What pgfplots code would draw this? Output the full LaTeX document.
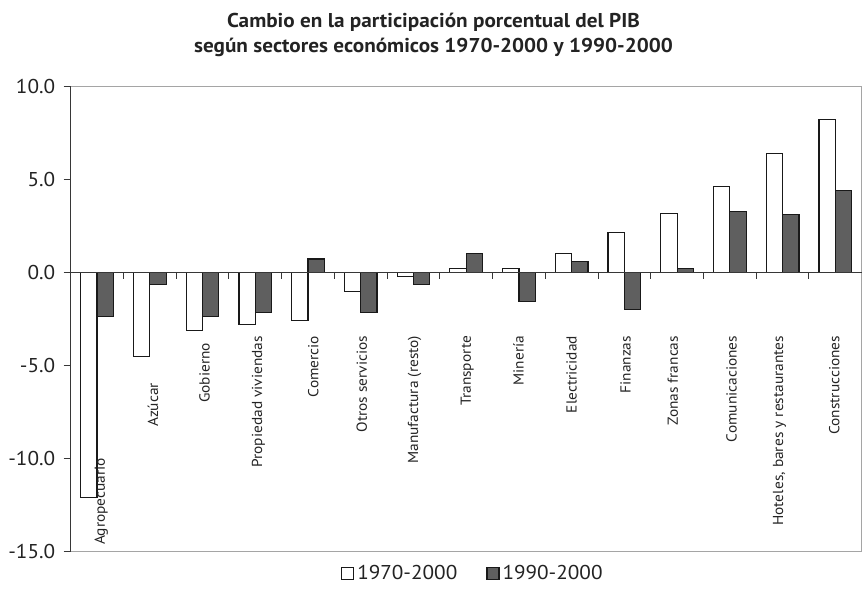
\documentclass[border=0pt]{standalone}
\usepackage{fontspec}
\setmainfont{PT Sans}[FakeStretch=1.06]
\usepackage{pgfplots}
\pgfplotsset{compat=1.18}
\definecolor{dk}{RGB}{95,95,95}
\definecolor{framec}{RGB}{165,165,165}
\definecolor{axisdk}{RGB}{55,55,55}
\definecolor{txt}{RGB}{35,35,35}

\begin{document}
\begin{tikzpicture}[x=1pt,y=1pt]
\path[use as bounding box] (0,0) rectangle (867,594);
\node[font=\bfseries\fontsize{20}{24}\selectfont, anchor=base, text=txt, inner sep=0pt] at (433.5,566) {Cambio en la participación porcentual del PIB};
\node[font=\bfseries\fontsize{20}{24}\selectfont, anchor=base, text=txt, inner sep=0pt] at (433.5,541) {según sectores económicos 1970-2000 y 1990-2000};
\begin{axis}[
  at={(70.7pt,42.3pt)}, anchor=south west,
  scale only axis, width=791pt, height=465.4pt,
  xmin=-0.5, xmax=14.5, ymin=-15, ymax=10,
  xtick=\empty,
  ytick={-15,-10,...,10},
  ytick pos=left,
  tick align=outside,
  major tick length=7pt,
  ytick style={axisdk, line width=1pt},
  yticklabel style={font=\fontsize{20}{24}\selectfont, text=txt, xshift=-5pt},
  /pgf/number format/.cd, fixed, fixed zerofill, precision=1, assume math mode=true, /pgfplots/.cd,
  axis line style={framec, line width=1.5pt},
  ybar, bar width=0.31,
  clip=false,
  legend columns=2,
  legend style={at={(axis description cs:0.509,-0.046)}, anchor=center, draw=none, fill=none,
    font=\fontsize{20}{24}\selectfont, text=txt,
    nodes={inner xsep=3pt},
    /tikz/every even column/.append style={column sep=26pt}},
  legend image code/.code={\draw[#1] (0pt,-6pt) rectangle (12pt,6pt);},
]
\addplot[fill=white, draw=black!90, line width=1.2pt, bar shift=-0.155] coordinates {
 (0,-12.1) (1,-4.53) (2,-3.10) (3,-2.79) (4,-2.56) (5,-1.02) (6,-0.21) (7,0.21)
 (8,0.21) (9,1.02) (10,2.15) (11,3.18) (12,4.62) (13,6.37) (14,8.21)};
\addplot[fill=dk, draw=black!90, line width=1.2pt, bar shift=0.155] coordinates {
 (0,-2.38) (1,-0.63) (2,-2.38) (3,-2.15) (4,0.72) (5,-2.15) (6,-0.63) (7,1.02)
 (8,-1.54) (9,0.61) (10,-1.99) (11,0.20) (12,3.27) (13,3.10) (14,4.42)};
\legend{1970-2000,1990-2000}
\draw[axisdk, line width=1pt] (axis cs:-0.5,0) -- (axis cs:14.5,0);
\pgfplotsinvokeforeach{0.5,1.5,2.5,3.5,4.5,5.5,6.5,7.5,8.5,9.5,10.5,11.5,12.5,13.5}{
  \draw[axisdk, line width=1pt] (axis cs:#1,0) -- ([yshift=-7pt]axis cs:#1,0);
}
\draw[axisdk, line width=1.3pt] (rel axis cs:0,0) -- (rel axis cs:0,1);
\begin{scope}[every node/.style={rotate=90, anchor=east, inner sep=0pt, font=\fontsize{14.5}{16}\selectfont, text=txt}]
\node at (axis cs:0.08,-9.96) {Agropecuario};
\node at (axis cs:1.06,-5.93) {Azúcar};
\node at (axis cs:2.04,-3.78) {Gobierno};
\node at (axis cs:3.06,-3.40) {Propiedad viviendas};
\node at (axis cs:4.10,-3.40) {Comercio};
\node at (axis cs:5.02,-3.40) {Otros servicios};
\node at (axis cs:6.02,-3.40) {Manufactura (resto)};
\node at (axis cs:7.02,-3.40) {Transporte};
\node at (axis cs:7.99,-3.40) {Minería};
\node at (axis cs:9.00,-3.40) {Electricidad};
\node at (axis cs:10.02,-3.40) {Finanzas};
\node at (axis cs:10.92,-3.40) {Zonas francas};
\node at (axis cs:12.03,-3.40) {Comunicaciones};
\node at (axis cs:12.94,-3.40) {Hoteles, bares y restaurantes};
\node at (axis cs:13.98,-3.40) {Construcciones};
\end{scope}
\end{axis}
\end{tikzpicture}
\end{document}
